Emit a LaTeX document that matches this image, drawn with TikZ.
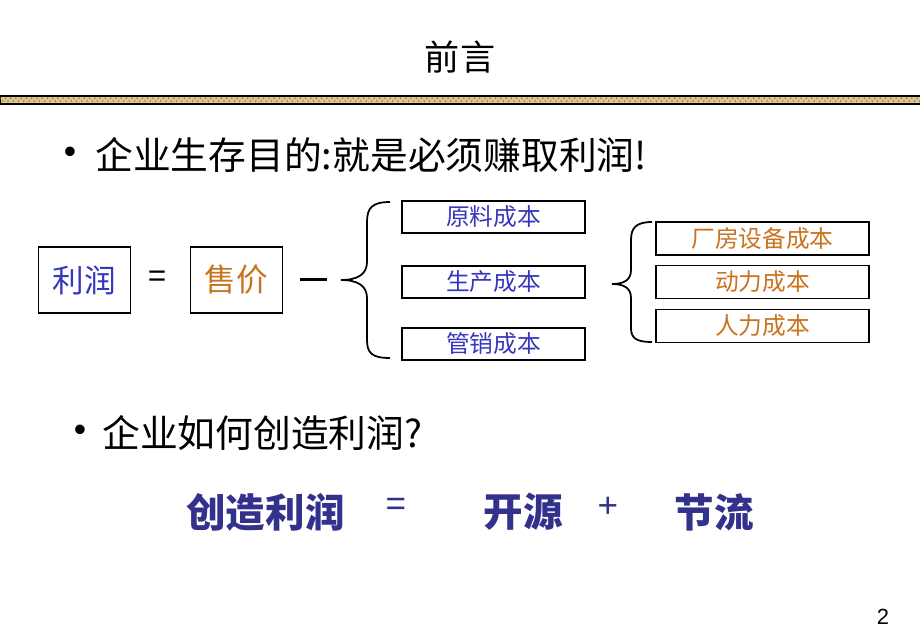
\documentclass[tikz,border=0pt]{standalone}
\usepackage{fontspec}
\setmainfont{Liberation Sans}
\newfontfamily\cjk{Noto Sans CJK SC}
\usetikzlibrary{patterns}
\definecolor{lrblue}{RGB}{55,55,190}
\definecolor{lrnavy}{RGB}{50,50,140}
\definecolor{lrorange}{RGB}{200,115,30}
\definecolor{lrtan}{RGB}{222,198,140}
\definecolor{lrbrown}{RGB}{150,120,60}
\tikzset{
	bigbox/.style={draw, line width=1pt, inner sep=0pt, minimum width=1.84cm, minimum height=1.32cm, font=\cjk\fontsize{18}{18}\selectfont},
	costbox/.style={draw, line width=1pt, inner sep=0pt, minimum width=3.66cm, minimum height=0.64cm, font=\cjk\fontsize{13.5}{13.5}\selectfont, text=lrblue},
	subbox/.style={draw, line width=1pt, inner sep=0pt, minimum width=4.26cm, minimum height=0.66cm, font=\cjk\fontsize{13.5}{13.5}\selectfont, text=lrorange},
	bullettext/.style={anchor=west, inner sep=0pt, font=\cjk\fontsize{21.5}{21.5}\selectfont},
	bulletdot/.style={inner sep=0pt, font=\fontsize{20}{20}\selectfont},
	sumtext/.style={inner sep=0pt, font=\cjk\bfseries\fontsize{22.5}{22.5}\selectfont, text=lrnavy},
}

\begin{document}
\begin{tikzpicture}[x=0.02cm, y=-0.02cm]
			%%%%% START %%%%%
			\useasboundingbox (0,0) rectangle (920,636);
			
			% title and band
			\node[font=\cjk\fontsize{20}{20}\selectfont] (title) at (460,57) {前言};
			\draw[fill=lrtan] (0,96) rectangle (920,104);
			\fill[pattern=crosshatch dots, pattern color=lrbrown] (0,96.5) rectangle (920,103.5);
			\draw[line width=0.8pt] (0,96) -- (920,96);
			\draw[line width=0.8pt] (0,104) -- (920,104);
			
			% first bullet
			\node[bulletdot] (dot1) at (70,155) {•};
			\node[bullettext] (aim) at (95,155) {企业生存目的:就是必须赚取利润!};
			
			% profit = price - costs
			\node[bigbox, text=lrblue] (profit) at (84.5,280) {利润};
			\node[font=\fontsize{18}{18}\selectfont] (eq1) at (157,279) {=};
			\node[bigbox, text=lrorange] (price) at (236.5,280) {售价};
			\fill (300,277.5) rectangle (327,280.5);
			
			\draw[line width=1pt] (390,202) .. controls (372,202) and (367,208) .. (367,222) -- (367,262) .. controls (367,274) and (358,280) .. (341,280) .. controls (358,280) and (367,286) .. (367,298) -- (367,340) .. controls (367,353) and (372,358) .. (390,358);
			
			\node[costbox] (material) at (493.5,217) {原料成本};
			\node[costbox] (produce) at (493.5,282) {生产成本};
			\node[costbox] (sales) at (493.5,344) {管销成本};
			
			\draw[line width=1pt] (652,222) .. controls (636,222) and (631,228) .. (631,240) -- (631,270) .. controls (631,280) and (624,284) .. (612,284) .. controls (624,284) and (631,288) .. (631,298) -- (631,328) .. controls (631,338) and (636,342) .. (652,342);
			
			\node[subbox] (plant) at (762.5,238.5) {厂房设备成本};
			\node[subbox] (power) at (762.5,282) {动力成本};
			\node[subbox] (labour) at (762.5,326) {人力成本};
			
			% second bullet
			\node[bulletdot] (dot2) at (80,433) {•};
			\node[bullettext] (how) at (102,433) {企业如何创造利润?};
			
			% create profit = open + save
			\node[sumtext] (create) at (265.5,512) {创造利润};
			\node[sumtext, font=\fontsize{20}{20}\selectfont] (eq2) at (396,507) {=};
			\node[sumtext] (open) at (523,512) {开源};
			\node[sumtext, font=\fontsize{20}{20}\selectfont] (plus) at (608,507) {+};
			\node[sumtext] (save) at (714,512) {节流};
			
			\node[font=\fontsize{12.5}{12.5}\selectfont] (page) at (883,617) {2};
			%%%%% END %%%%%
\end{tikzpicture}
\end{document}
